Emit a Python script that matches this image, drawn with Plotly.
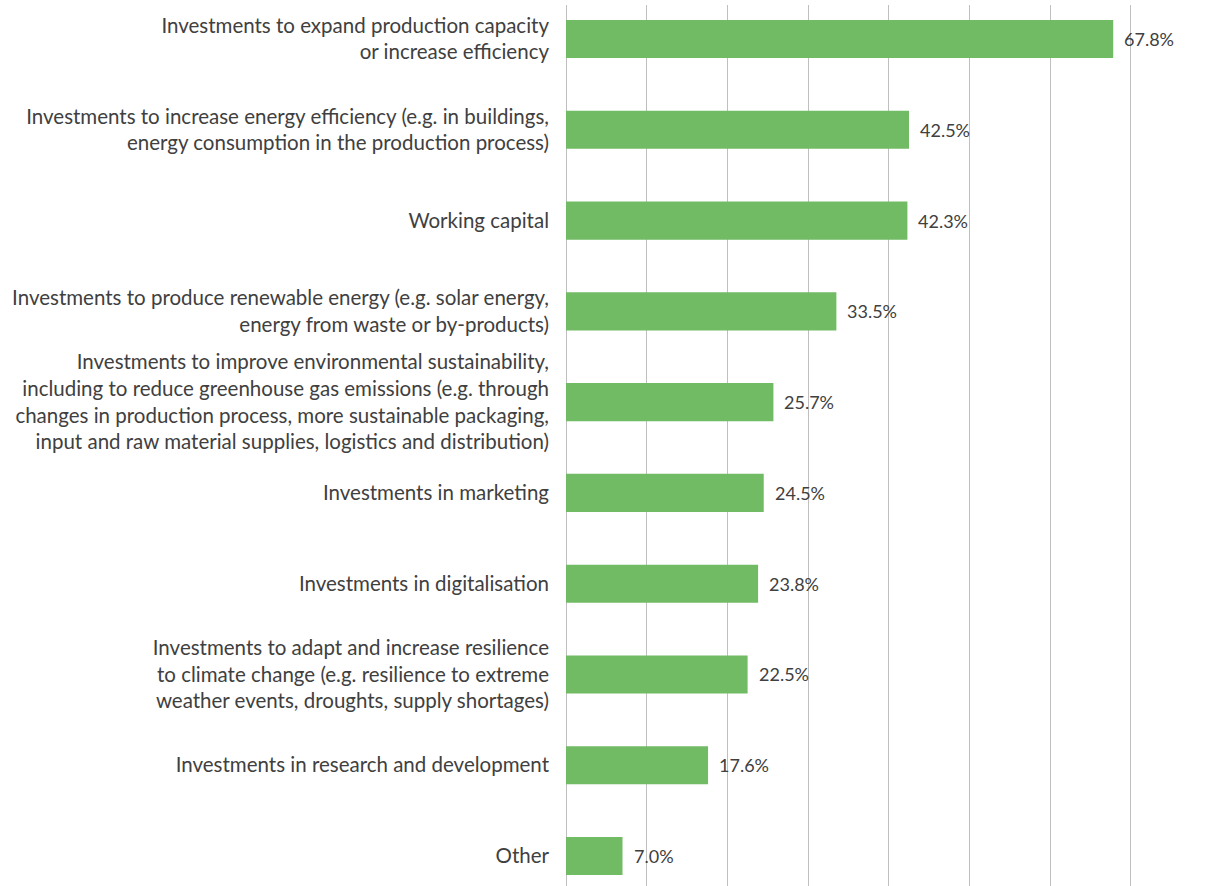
import plotly.graph_objects as go

categories = [
    "Investments to expand production capacity<br>or increase efficiency",
    "Investments to increase energy efficiency (e.g. in buildings,<br>energy consumption in the production process)",
    "Working capital",
    "Investments to produce renewable energy (e.g. solar energy,<br>energy from waste or by-products)",
    "Investments to improve environmental sustainability,<br>including to reduce greenhouse gas emissions (e.g. through<br>changes in production process, more sustainable packaging,<br>input and raw material supplies, logistics and distribution)",
    "Investments in marketing",
    "Investments in digitalisation",
    "Investments to adapt and increase resilience<br>to climate change (e.g. resilience to extreme<br>weather events, droughts, supply shortages)",
    "Investments in research and development",
    "Other",
]
shares = [67.8, 42.5, 42.3, 33.5, 25.7, 24.5, 23.8, 22.5, 17.6, 7.0]
value_labels = [f"{v:.1f}%" for v in shares]

TEXT = "#404040"
FONT = "Lato, 'Open Sans', sans-serif"

positions = list(range(len(categories)))

fig = go.Figure(
    go.Bar(
        x=shares,
        y=positions,
        orientation="h",
        marker=dict(color="#72bb65", line=dict(width=0)),
        width=0.42,
        hoverinfo="x+y",
    )
)

# value labels placed just right of each bar end
for pos, val, lab in zip(positions, shares, value_labels):
    fig.add_annotation(
        x=val, y=pos, text=lab, showarrow=False,
        xanchor="left", yanchor="middle", xshift=9,
        font=dict(family=FONT, size=18, color=TEXT),
    )

fig.update_layout(
    width=1207,
    height=886,
    margin=dict(l=566, r=72, t=5, b=0),
    paper_bgcolor="white",
    plot_bgcolor="white",
    showlegend=False,
    font=dict(family=FONT, size=20, color=TEXT),
)

fig.update_xaxes(
    range=[0, 70.5],
    tickvals=[0, 10, 20, 30, 40, 50, 60, 70],
    showticklabels=False,
    showgrid=True,
    gridcolor="#bfbfbf",
    gridwidth=1,
    zeroline=True,
    zerolinecolor="#bfbfbf",
    zerolinewidth=1,
    showline=False,
)

fig.update_yaxes(
    range=[9.33, -0.3745],
    tickvals=positions,
    ticktext=categories,
    showgrid=False,
    zeroline=False,
    showline=False,
    ticks="",
    ticklabelstandoff=16,
    tickfont=dict(family=FONT, size=20.5, color=TEXT),
)

fig.write_html("out.html")
